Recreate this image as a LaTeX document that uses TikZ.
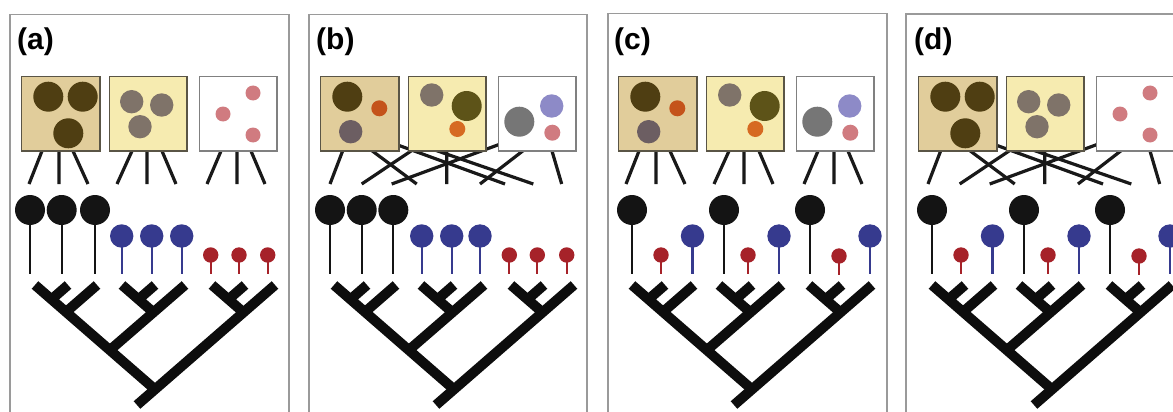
\documentclass[tikz,border=0pt]{standalone}
\usepackage{fontspec}
\setmainfont{Liberation Sans}
\usepackage{tikz}
\usetikzlibrary{positioning}
\usepackage{xcolor}

\definecolor{boxtan}{HTML}{E1CD9B}
\definecolor{boxcream}{HTML}{F6EBB0}
\definecolor{boxedge}{HTML}{5A5546}
\definecolor{soilbrown}{HTML}{4F3E12}
\definecolor{taupe}{HTML}{7F7369}
\definecolor{rosepink}{HTML}{D07B80}
\definecolor{rust}{HTML}{C4531B}
\definecolor{amber}{HTML}{D66A22}
\definecolor{mauve}{HTML}{6C5E62}
\definecolor{darkolive}{HTML}{5D5318}
\definecolor{midgray}{HTML}{767676}
\definecolor{lavender}{HTML}{8D8AC7}
\definecolor{popblack}{HTML}{141414}
\definecolor{popblue}{HTML}{363A8E}
\definecolor{popred}{HTML}{A62229}
\definecolor{framegray}{HTML}{9A9A9A}

\tikzset{
  panelframe/.style={draw=framegray, line width=1.2pt},
  panellabel/.style={font=\fontsize{30}{30}\selectfont\bfseries, anchor=base west, inner sep=0pt},
  habitat/.style={draw=boxedge, line width=1.2pt},
  link/.style={line width=3.2pt, black!90},
  branch/.style={line width=10pt, black!95},
  popstick/.style={line width=2.3pt},
  blackpop/.pic={\draw[popstick, popblack] (0,0) -- (0,64); \fill[popblack] (0,0) circle (15pt);},
  bluepop/.pic={\draw[popstick, popblue] (0,0) -- (0,38); \fill[popblue] (0,0) circle (11.7pt);},
  redpop/.pic={\draw[popstick, popred] (0,0) -- (0,19); \fill[popred] (0,0) circle (7.7pt);},
  simplehabitats/.pic={
    \filldraw[habitat, fill=boxtan] (21.7,76.7) rectangle (100,151);
    \fill[soilbrown] (48.3,96.7) circle (15pt) (82.7,96.7) circle (15pt) (68.3,133.3) circle (15pt);
    \filldraw[habitat, fill=boxcream] (109.3,76.7) rectangle (187,151);
    \fill[taupe] (131.7,101.7) circle (11.7pt) (161.7,105) circle (11.7pt) (140,126.7) circle (11.7pt);
    \filldraw[habitat, draw=gray, fill=white] (199.3,76.7) rectangle (277,151);
    \fill[rosepink] (253,93) circle (7.5pt) (223,114) circle (7.5pt) (253,135) circle (7.5pt);
  },
  mixedhabitats/.pic={
    \filldraw[habitat, fill=boxtan] (21.7,76.7) rectangle (100,151);
    \fill[soilbrown] (48.3,96.7) circle (15pt);
    \fill[rust] (80.3,108.3) circle (8pt);
    \fill[mauve] (51.7,131.7) circle (11.7pt);
    \filldraw[habitat, fill=boxcream] (109.3,76.7) rectangle (187,151);
    \fill[taupe] (132.7,95) circle (11.7pt);
    \fill[darkolive] (167.7,106) circle (15pt);
    \fill[amber] (158.3,129) circle (8pt);
    \filldraw[habitat, draw=gray, fill=white] (199.3,76.7) rectangle (277,151);
    \fill[midgray] (220.3,121.7) circle (15pt);
    \fill[lavender] (252.7,106) circle (11.7pt);
    \fill[rosepink] (253.3,132.7) circle (8pt);
  },
  straightlinks/.pic={
    \draw[link] (42,151) -- (29,184) (59,151) -- (59,184) (73,151) -- (88,184);
    \draw[link] (132,151) -- (117,184) (147,151) -- (147,184) (162,151) -- (176,184);
    \draw[link] (221,151) -- (207,184) (237,151) -- (237,184) (251,151) -- (265,184);
  },
  crosslinks/.pic={
    \draw[link] (44,150) -- (31,184) (72,150) -- (117.7,184) (85,140) -- (206,184);
    \draw[link] (113.5,150) -- (62.7,184) (147.7,150) -- (147.7,184) (130,148) -- (234.3,184);
    \draw[link] (215,139) -- (92.7,184) (225,150) -- (181,184) (252.7,150) -- (262.7,184);
  },
  cladetree/.pic={
    \draw[branch] (35,285) -- (155,389.4);
    \draw[branch] (275,285) -- (137,405);
    \draw[branch] (68,285) -- (51.5,299.4);
    \draw[branch] (97,285) -- (66,312);
    \draw[branch] (185,285) -- (110,350);
    \draw[branch] (122,285) -- (153.5,312.4);
    \draw[branch] (155,285) -- (138.5,299.4);
    \draw[branch] (212,285) -- (243.5,312.4);
    \draw[branch] (245,285) -- (228.5,299.4);
  }
}

\begin{document}
\begin{tikzpicture}[x=1pt, y=-1pt]
\useasboundingbox (0,0) rectangle (1173,412);
\fill[white] (0,0) rectangle (1173,412);

% frames
\draw[panelframe] (10,412) -- (10,14.5) -- (289,14.5) -- (289,412);
\draw[panelframe] (309,412) -- (309,14.5) -- (587,14.5) -- (587,412);
\draw[panelframe] (608,412) -- (608,13.5) -- (887,13.5) -- (887,412);
\draw[panelframe] (906,412) -- (906,14) -- (1180,14);

% (a)
\begin{scope}
\node[panellabel] (laba) at (17,50) {(a)};
\pic {straightlinks};
\pic {simplehabitats};
\pic at (30,210) {blackpop};
\pic at (61.7,210) {blackpop};
\pic at (95,210) {blackpop};
\pic at (121.7,236) {bluepop};
\pic at (151.7,236) {bluepop};
\pic at (181.7,236) {bluepop};
\pic at (210.7,255) {redpop};
\pic at (239,255) {redpop};
\pic at (267.7,255) {redpop};
\pic {cladetree};
\end{scope}

% (b)
\begin{scope}[xshift=299pt]
\node[panellabel] (labb) at (17,50) {(b)};
\pic {crosslinks};
\pic {mixedhabitats};
\pic at (31,210) {blackpop};
\pic at (62.7,210) {blackpop};
\pic at (94.3,210) {blackpop};
\pic at (122.7,236) {bluepop};
\pic at (152.7,236) {bluepop};
\pic at (181,236) {bluepop};
\pic at (210.3,255) {redpop};
\pic at (238.3,255) {redpop};
\pic at (267.7,255) {redpop};
\pic {cladetree};
\end{scope}

% (c)
\begin{scope}[xshift=597pt]
\node[panellabel] (labc) at (17,50) {(c)};
\pic {straightlinks};
\pic {mixedhabitats};
\pic at (35,210) {blackpop};
\pic at (64,255) {redpop};
\pic at (95.5,236) {bluepop};
\pic at (127,210) {blackpop};
\pic at (151,255) {redpop};
\pic at (182,236) {bluepop};
\pic at (213,210) {blackpop};
\pic at (242,256) {redpop};
\pic at (273,236) {bluepop};
\pic {cladetree};
\end{scope}

% (d)
\begin{scope}[xshift=897pt]
\node[panellabel] (labd) at (17,50) {(d)};
\pic {crosslinks};
\pic {simplehabitats};
\pic at (35,210) {blackpop};
\pic at (64,255) {redpop};
\pic at (95.5,236) {bluepop};
\pic at (127,210) {blackpop};
\pic at (151,255) {redpop};
\pic at (182,236) {bluepop};
\pic at (213,210) {blackpop};
\pic at (242,256) {redpop};
\pic at (273,236) {bluepop};
\pic {cladetree};
\end{scope}
\end{tikzpicture}
\end{document}
